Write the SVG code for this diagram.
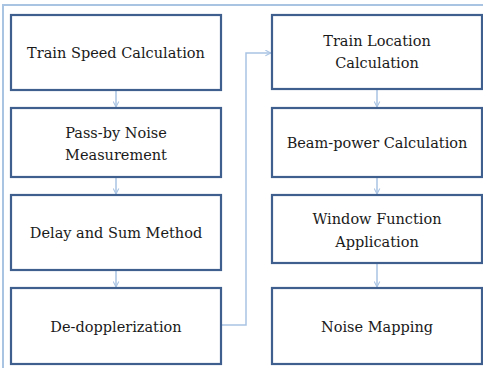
<svg xmlns="http://www.w3.org/2000/svg" width="483" height="368" viewBox="0 0 483 368">
  <defs>
    <style>
      .frame { fill: none; stroke: #a9c3e3; stroke-width: 2; }
      .box { fill: #ffffff; stroke: #3f5f8f; stroke-width: 2.2; }
      .label { font-family: "DejaVu Serif", "Liberation Serif", serif; font-size: 14.5px; fill: #1a1a1a; text-anchor: middle; }
      .link { fill: none; stroke: #a9c3e3; stroke-width: 1.5; }
    </style>
    <marker id="arrow" viewBox="0 0 10 10" refX="9" refY="5" markerWidth="7" markerHeight="7" orient="auto" markerUnits="userSpaceOnUse">
      <path d="M1,1 L9,5 L1,9" fill="none" stroke="#a9c3e3" stroke-width="1.5"/>
    </marker>
  </defs>

  <rect width="483" height="368" fill="#ffffff"/>
  <!-- outer frame -->
  <path class="frame" d="M3,372 V5 H490"/>

  <g id="connectors">
    <line class="link" x1="116" y1="90" x2="116" y2="107" marker-end="url(#arrow)"/>
    <line class="link" x1="116" y1="177" x2="116" y2="194" marker-end="url(#arrow)"/>
    <line class="link" x1="116" y1="270" x2="116" y2="287" marker-end="url(#arrow)"/>
    <path class="link" d="M221,325 H246 V53 H271" marker-end="url(#arrow)"/>
    <line class="link" x1="377" y1="89" x2="377" y2="107" marker-end="url(#arrow)"/>
    <line class="link" x1="377" y1="177" x2="377" y2="194" marker-end="url(#arrow)"/>
    <line class="link" x1="377" y1="263" x2="377" y2="287" marker-end="url(#arrow)"/>
  </g>

  <g id="train-speed">
    <rect class="box" x="11" y="15" width="210" height="75"/>
    <text class="label" x="116" y="58">Train Speed Calculation</text>
  </g>
  <g id="pass-by-noise">
    <rect class="box" x="11" y="108" width="210" height="69"/>
    <text class="label" x="116" y="138">Pass-by Noise</text>
    <text class="label" x="116" y="160">Measurement</text>
  </g>
  <g id="delay-sum">
    <rect class="box" x="11" y="195" width="210" height="75"/>
    <text class="label" x="116" y="238">Delay and Sum Method</text>
  </g>
  <g id="de-dopplerization">
    <rect class="box" x="11" y="288" width="210" height="76"/>
    <text class="label" x="116" y="332">De-dopplerization</text>
  </g>

  <g id="train-location">
    <rect class="box" x="272" y="15" width="210" height="74"/>
    <text class="label" x="377" y="46">Train Location</text>
    <text class="label" x="377" y="68">Calculation</text>
  </g>
  <g id="beam-power">
    <rect class="box" x="272" y="108" width="210" height="69"/>
    <text class="label" x="377" y="148">Beam-power Calculation</text>
  </g>
  <g id="window-function">
    <rect class="box" x="272" y="195" width="210" height="68"/>
    <text class="label" x="377" y="224">Window Function</text>
    <text class="label" x="377" y="247">Application</text>
  </g>
  <g id="noise-mapping">
    <rect class="box" x="272" y="288" width="210" height="76"/>
    <text class="label" x="377" y="332">Noise Mapping</text>
  </g>
</svg>
